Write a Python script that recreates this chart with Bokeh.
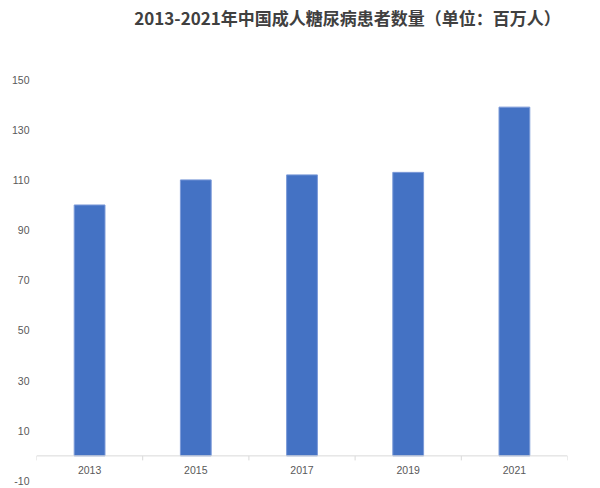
from bokeh.embed import file_html
from bokeh.resources import INLINE
from bokeh.core.properties import value
from bokeh.models import (ColumnDataSource, Label, Span, FixedTicker, FactorRange,
                          Range1d, PrintfTickFormatter)
from bokeh.plotting import figure

# Daten
years = ["2013", "2015", "2017", "2019", "2021"]
patients = [100, 110, 112, 113, 139]
y_ticks = [-10, 10, 30, 50, 70, 90, 110, 130, 150]
title_text = "2013-2021年中国成人糖尿病患者数量（单位：百万人）"

source = ColumnDataSource(dict(year=years, count=patients))
# Trennstriche an den Kategoriegrenzen der x-Achse
edge_pos = [(y, -0.5) for y in years] + [(years[-1], 0.5)]
edges = ColumnDataSource(dict(pos=edge_pos))

p = figure(x_range=FactorRange(*years), y_range=Range1d(-13, 181.5),
           width=600, height=488, toolbar_location=None, output_backend="svg",
           x_axis_location=None, min_border_left=36, min_border_right=33,
           min_border_top=0, min_border_bottom=0)
p.outline_line_color = None
p.grid.visible = False

# Balken
p.vbar(x='year', top='count', width=0.29, source=source,
       fill_color="#4472C4", line_color="#7b9ad8", line_width=1)

# x-Achse bei 0 (Linie, Trennstriche, Beschriftung)
p.add_layout(Span(location=0, dimension="width", line_color="#d9d9d9", line_width=1))
p.segment(x0='pos', y0=0, x1='pos', y1=-1.8, source=edges,
          line_color="#d9d9d9", line_width=1)
p.text(x='year', y=0, text='year', source=source, y_offset=14,
       text_align="center", text_baseline="middle",
       text_font=value("Liberation Sans"), text_font_size="10.5px", text_color="#595959")

# y-Achse
p.yaxis.ticker = FixedTicker(ticks=y_ticks)
p.yaxis.formatter = PrintfTickFormatter(format="%d")
p.yaxis.axis_line_color = None
p.yaxis.major_tick_in = 0
p.yaxis.major_tick_out = 0
p.yaxis.minor_tick_line_color = None
p.yaxis.major_label_standoff = 7
p.yaxis.major_label_text_font = "Liberation Sans"
p.yaxis.major_label_text_font_size = "10.5px"
p.yaxis.major_label_text_color = "#595959"

# Titel
p.add_layout(Label(x=311, y=471, x_units="screen", y_units="screen", text=title_text,
                   text_align="center", text_baseline="middle",
                   text_font="Noto Sans CJK SC", text_font_style="bold",
                   text_font_size="17px", text_color="#404040"))

open("out.html", "w").write(file_html(p, INLINE))
